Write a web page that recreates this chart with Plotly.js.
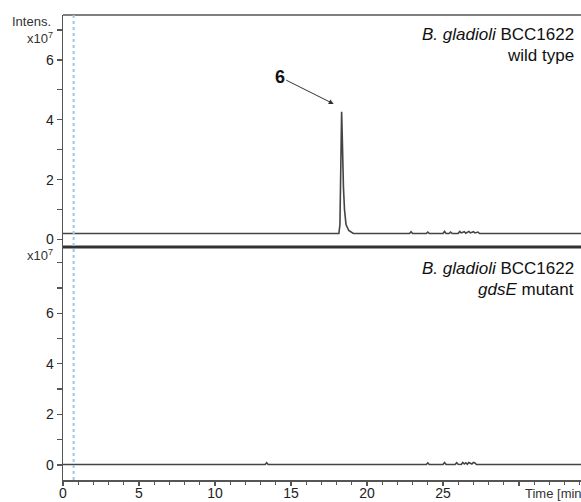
<!DOCTYPE html>
<html>
<head>
<meta charset="utf-8">
<script src="https://cdn.plot.ly/plotly-3.0.1.min.js"></script>
<style>
  html, body { margin: 0; padding: 0; background: #fff; }
  #chart { width: 581px; height: 502px; }
</style>
</head>
<body>
<div id="chart"></div>
<script>
// ---- Data (intensity in units of 1e7) ----
const wtTime = [0, 18.15, 18.22, 18.28, 18.33, 18.37, 18.41, 18.45, 18.52, 18.62, 18.8, 19.1,
  22.8, 22.9, 23.0, 23.9, 24.0, 24.1, 25.0, 25.1, 25.2, 25.4, 25.5, 25.6,
  26.0, 26.1, 26.2, 26.4, 26.5, 26.7, 26.8, 27.0, 27.1, 27.3, 27.4, 34.1];
const wtIntensity = [0.2, 0.2, 0.5, 2.5, 4.27, 3.5, 1.9, 1.75, 1.0, 0.5, 0.3, 0.2,
  0.2, 0.26, 0.2, 0.2, 0.25, 0.2, 0.2, 0.27, 0.2, 0.2, 0.25, 0.2,
  0.2, 0.27, 0.22, 0.26, 0.21, 0.27, 0.22, 0.26, 0.22, 0.25, 0.2, 0.2];

const mutTime = [0, 13.3, 13.4, 13.5, 23.9, 24.0, 24.1, 25.0, 25.1, 25.2, 25.8, 25.9, 26.0,
  26.2, 26.3, 26.4, 26.5, 26.6, 26.7, 26.9, 27.0, 27.1, 27.2, 34.1];
const mutIntensity = [0.02, 0.02, 0.09, 0.02, 0.02, 0.08, 0.02, 0.02, 0.1, 0.02, 0.02, 0.09, 0.03,
  0.02, 0.1, 0.04, 0.09, 0.03, 0.1, 0.04, 0.1, 0.08, 0.02, 0.02];

const xTickVals = [0, 5, 10, 15, 20, 25, 30];
const xTickText = ['0', '5', '10', '15', '20', '25', ''];
const yTickVals = [0, 2, 4, 6, 8];
const yTickText = ['0', '2', '4', '6', ''];

const solventFrontTime = 0.7;
const peakLabel = '6';
const peakTime = 17.81;
const peakArrowIntensity = 4.53;

const topLabel = ['<i>B. gladioli</i> BCC1622', 'wild type'];
const bottomLabel = ['<i>B. gladioli</i> BCC1622', '<i>gdsE</i> mutant'];

// ---- Layout helpers (pixel -> paper) ----
const W = 581, H = 502;
const mL = 63, mR = 0, mT = 15, mB = 22;
const plotW = W - mL - mR, plotH = H - mT - mB;
const px = x => (x - mL) / plotW;
const py = y => (H - mB - y) / plotH;
const split = py(247);

const lineColor = '#444';
const axisColor = '#555';
const font = 'Liberation Sans, Arial, sans-serif';

const traces = [
  { x: wtTime, y: wtIntensity, xaxis: 'x', yaxis: 'y2', mode: 'lines',
    line: { color: lineColor, width: 1.6 }, hoverinfo: 'skip' },
  { x: mutTime, y: mutIntensity, xaxis: 'x', yaxis: 'y', mode: 'lines',
    line: { color: lineColor, width: 1.6 }, hoverinfo: 'skip' }
];

const yCommon = {
  showline: true, linecolor: axisColor, linewidth: 1.5,
  ticks: 'outside', ticklen: 5, tickwidth: 1.3, tickcolor: axisColor,
  tickmode: 'array', tickvals: yTickVals, ticktext: yTickText,
  minor: { tickmode: 'linear', tick0: 0, dtick: 1, ticks: 'outside', ticklen: 5, tickwidth: 1.3, tickcolor: axisColor },
  showgrid: false, zeroline: false, anchor: 'x',
  tickfont: { family: font, size: 14, color: '#222' }
};

const layout = {
  width: W, height: H,
  margin: { l: mL, r: mR, t: mT, b: mB },
  paper_bgcolor: '#fff', plot_bgcolor: '#fff',
  showlegend: false,
  xaxis: {
    range: [0, plotW / 15.2], showline: true, linecolor: axisColor, linewidth: 1.5,
    ticks: 'outside', ticklen: 4, tickwidth: 1.3, tickcolor: axisColor,
    tickmode: 'array', tickvals: xTickVals, ticktext: xTickText,
    minor: { tickmode: 'linear', tick0: 0, dtick: 1, ticks: 'outside', ticklen: 3, tickwidth: 1.2, tickcolor: axisColor },
    showgrid: false, zeroline: false, anchor: 'y',
    ticklabelstandoff: -4,
    tickfont: { family: font, size: 14, color: '#222' }
  },
  yaxis: Object.assign({}, yCommon, { domain: [0, split], range: [-0.593, 8.617] }),
  yaxis2: Object.assign({}, yCommon, { domain: [split, 1], range: [-0.25, 7.5] }),
  shapes: [
    { type: 'line', xref: 'paper', yref: 'paper', x0: 0, x1: 1, y0: 1, y1: 1,
      line: { color: axisColor, width: 1.5 } },
    { type: 'line', xref: 'paper', yref: 'paper', x0: 0, x1: 1, y0: split, y1: split,
      line: { color: '#333', width: 3 } },
    { type: 'line', xref: 'x', yref: 'paper', x0: solventFrontTime, x1: solventFrontTime, y0: 0, y1: 1,
      line: { color: '#9cc6ea', width: 2, dash: 'dot' } }
  ],
  annotations: [
    { xref: 'paper', yref: 'paper', x: px(53), y: py(21), xanchor: 'right', yanchor: 'middle',
      text: 'Intens.', showarrow: false, font: { family: font, size: 13, color: '#333' } },
    { xref: 'paper', yref: 'paper', x: px(55), y: py(38), xanchor: 'right', yanchor: 'middle',
      text: 'x10<sup>7</sup>', showarrow: false, font: { family: font, size: 13, color: '#333' } },
    { xref: 'paper', yref: 'paper', x: px(55), y: py(255), xanchor: 'right', yanchor: 'middle',
      text: 'x10<sup>7</sup>', showarrow: false, font: { family: font, size: 13, color: '#333' } },
    { xref: 'paper', yref: 'paper', x: px(576), y: py(35), xanchor: 'right', yanchor: 'middle',
      text: topLabel[0], showarrow: false, font: { family: font, size: 17, color: '#111' } },
    { xref: 'paper', yref: 'paper', x: px(576), y: py(56), xanchor: 'right', yanchor: 'middle',
      text: topLabel[1], showarrow: false, font: { family: font, size: 17, color: '#111' } },
    { xref: 'paper', yref: 'paper', x: px(576), y: py(268), xanchor: 'right', yanchor: 'middle',
      text: bottomLabel[0], showarrow: false, font: { family: font, size: 17, color: '#111' } },
    { xref: 'paper', yref: 'paper', x: px(576), y: py(290), xanchor: 'right', yanchor: 'middle',
      text: bottomLabel[1], showarrow: false, font: { family: font, size: 17, color: '#111' } },
    { xref: 'paper', yref: 'paper', x: px(523), y: py(493), xanchor: 'left', yanchor: 'middle',
      text: 'Time [min]', showarrow: false, font: { family: font, size: 13, color: '#333' } },
    { xref: 'x', yref: 'y2', x: peakTime, y: peakArrowIntensity, text: '<b>' + peakLabel + '</b>',
      showarrow: true, ax: -54, ay: -27, arrowhead: 2, arrowsize: 1, arrowwidth: 1, arrowcolor: '#333',
      font: { family: font, size: 18, color: '#111' } }
  ]
};

Plotly.newPlot('chart', traces, layout, { staticPlot: true, displayModeBar: false });
</script>
</body>
</html>
